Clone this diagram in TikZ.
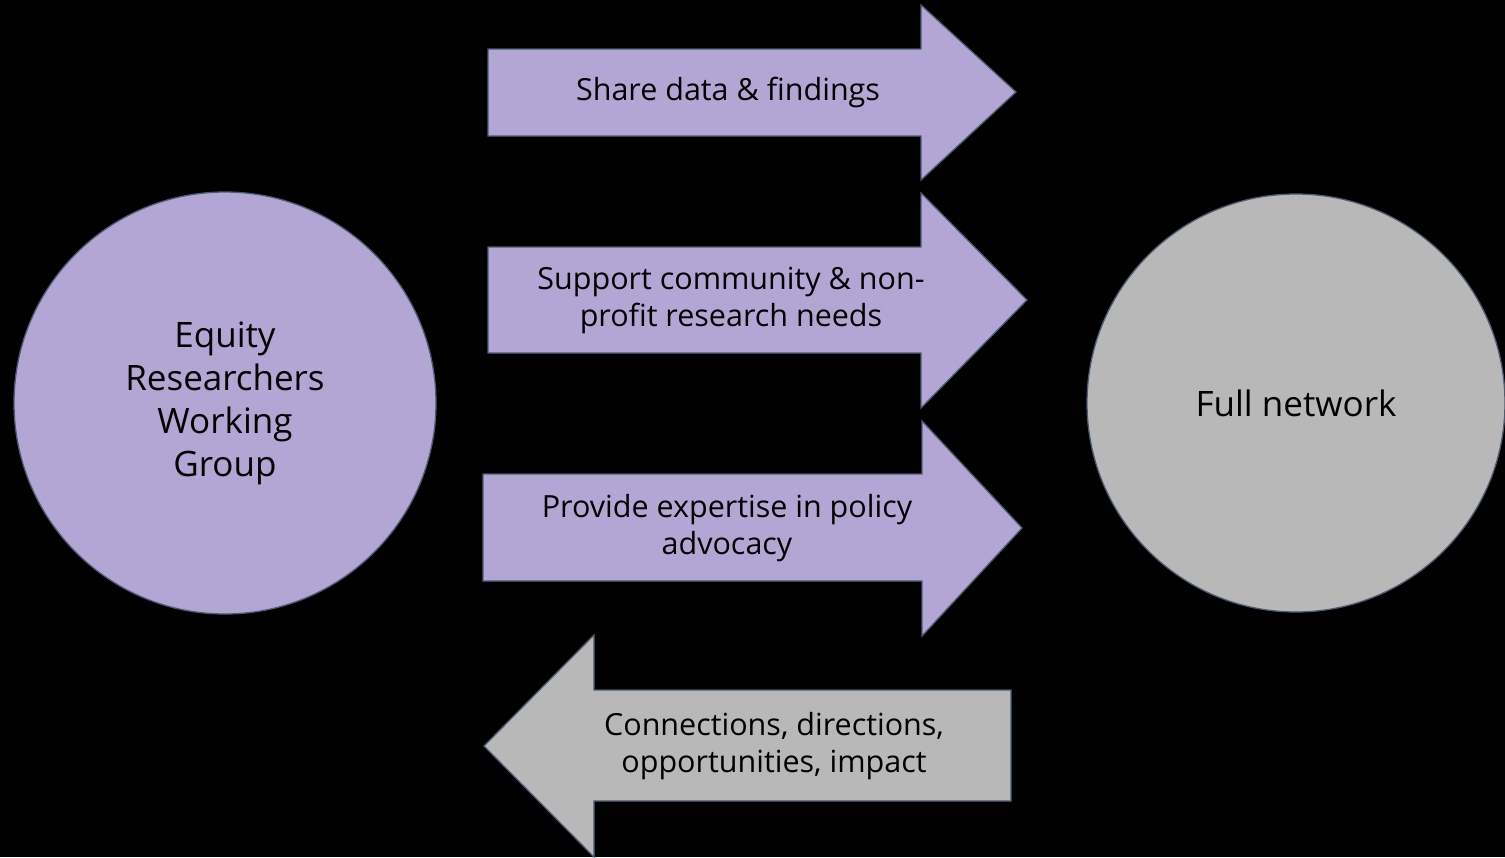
\documentclass[tikz,border=0pt]{standalone}
\usepackage{fontspec}
\setmainfont{Open Sans}[Ligatures=NoCommon]
\definecolor{lilac}{HTML}{B3A6D5}
\definecolor{greyfill}{HTML}{B8B8B8}
\definecolor{rim}{HTML}{4A5B72}
\begin{document}
\begin{tikzpicture}[x=1pt,y=-1pt,
                    group node/.style={circle,draw=rim,line width=1.3pt,inner sep=0pt,
                                       align=center,font=\fontsize{35}{43}\selectfont},
                    flow/.style={draw=rim,line width=1.3pt,line join=miter},
                    flow text/.style={align=center,font=\fontsize{30.5}{37}\selectfont}
                   ]
  \fill[black] (0,0) rectangle (1505,857);
  \useasboundingbox (0,0) rectangle (1505,857);
  % the two groups
  \node[group node,fill=lilac,minimum size=422pt] (erwg) at (225,403) {Equity\\Researchers\\Working\\Group};
  \node[group node,fill=greyfill,minimum size=418pt] (net) at (1296,403) {Full network};
  % block arrows, left to right
  \draw[flow,fill=lilac] (488,49) -- (921,49) -- (921,5) -- (1016,92) -- (921,180) -- (921,136) -- (488,136) -- cycle;
  \draw[flow,fill=lilac] (488,247) -- (921,247) -- (921,193) -- (1027,300) -- (921,408) -- (921,353) -- (488,353) -- cycle;
  \draw[flow,fill=lilac] (483,474) -- (922,474) -- (922,421) -- (1022,528) -- (922,636) -- (922,581) -- (483,581) -- cycle;
  % block arrow back
  \draw[flow,fill=greyfill] (1011,690) -- (594,690) -- (594,635) -- (484,746) -- (594,857) -- (594,801) -- (1011,801) -- cycle;
  \node[flow text] (share) at (728,92) {Share data \& findings};
  \node[flow text] (support) at (731,300) {Support community \& non-\\profit research needs};
  \node[flow text] (policy) at (727,528) {Provide expertise in policy\\advocacy};
  \node[flow text] (back) at (774,746) {Connections, directions,\\opportunities, impact};
\end{tikzpicture}
\end{document}
